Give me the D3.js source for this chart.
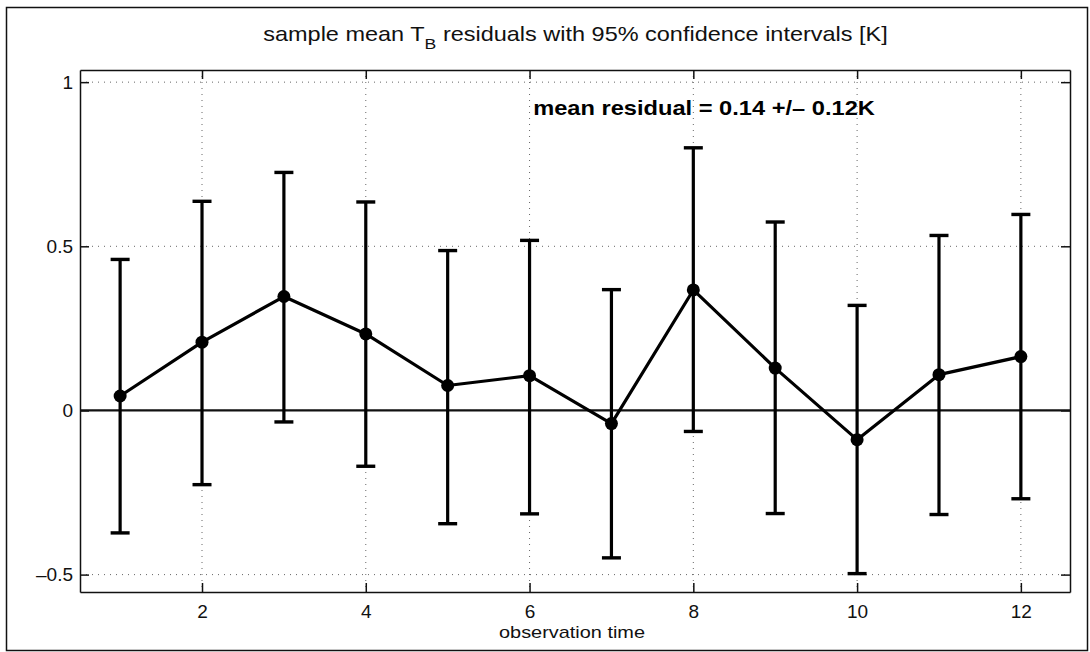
<!DOCTYPE html>
<html>
<head>
<meta charset="utf-8">
<script src="https://cdn.jsdelivr.net/npm/d3@7"></script>
<style>
  html, body { margin: 0; padding: 0; background: #fff; }
  svg { display: block; font-family: "Liberation Sans", Arial, Helvetica, sans-serif; }
</style>
</head>
<body>
<div class="chart"></div>
<script>
'use strict';

// observation index 1..12
var times = [1, 2, 3, 4, 5, 6, 7, 8, 9, 10, 11, 12];
// sample mean residual
var means = [0.044, 0.208, 0.347, 0.233, 0.076, 0.106, -0.040, 0.367, 0.129, -0.089, 0.109, 0.164];
// 95% confidence bounds
var upper = [0.460, 0.637, 0.725, 0.635, 0.487, 0.518, 0.368, 0.800, 0.574, 0.320, 0.533, 0.597];
var lower = [-0.373, -0.226, -0.035, -0.170, -0.345, -0.315, -0.449, -0.064, -0.314, -0.497, -0.317, -0.269];

var xTicks = [2, 4, 6, 8, 10, 12];
var yTicks = [-0.5, 0, 0.5, 1];

var titleText = 'sample mean T';
var titleSub = 'B';
var titleRest = ' residuals with 95% confidence intervals [K]';
var xLabel = 'observation time';
var note = 'mean residual = 0.14 +/\u2013 0.12K';

(function drawChart(d3) {

  var W = 1090, H = 652;
  var margin = {top: 70, right: 20, bottom: 60, left: 80};
  var width = W - margin.left - margin.right,
      height = H - margin.top - margin.bottom;

  var svg = d3.select('.chart').append('svg')
    .attr('width', W)
    .attr('height', H);

  // the scanned figure has its text a bit wider than the font, so squeeze/stretch to fit
  var stretch = function(text, targetWidth) {
    var w = text.node().getComputedTextLength();
    text.attr('transform', 'scale(' + (targetWidth / w) + ',1)');
  };

  // figure frame
  svg.append('rect')
    .attr('x', 6.5).attr('y', 7.5)
    .attr('width', 1081).attr('height', 643)
    .style('fill', 'none').style('stroke', '#111').style('stroke-width', 1.5);

  var g = svg.append('g')
    .attr('transform', 'translate(' + margin.left + ',' + margin.top + ')');

  var x = d3.scaleLinear().domain([0.51, 12.6]).range([0, width]);
  var y = d3.scaleLinear().domain([-0.553, 1.037]).range([height, 0]);

  // dotted grid
  g.append('g').selectAll('line').data(xTicks).enter().append('line')
    .attr('x1', function(d) { return x(d); }).attr('x2', function(d) { return x(d); })
    .attr('y1', 0).attr('y2', height)
    .style('stroke', '#666').style('stroke-width', 1).style('stroke-dasharray', '1,5');
  g.append('g').selectAll('line').data(yTicks).enter().append('line')
    .attr('x1', 0).attr('x2', width)
    .attr('y1', function(d) { return y(d); }).attr('y2', function(d) { return y(d); })
    .style('stroke', '#666').style('stroke-width', 1).style('stroke-dasharray', '1,5');

  // axes, ticks pointing inward on every side
  var fmt = function(d) { return d < 0 ? '\u2013' + Math.abs(d) : String(d); };
  var bottom = g.append('g').attr('transform', 'translate(0,' + height + ')')
    .call(d3.axisBottom(x).tickValues(xTicks).tickSizeInner(-9).tickSizeOuter(0).tickPadding(13));
  var left = g.append('g')
    .call(d3.axisLeft(y).tickValues(yTicks).tickFormat(fmt).tickSizeInner(-9).tickSizeOuter(0).tickPadding(7));
  var top = g.append('g')
    .call(d3.axisTop(x).tickValues(xTicks).tickFormat('').tickSizeInner(-9).tickSizeOuter(0));
  var right = g.append('g').attr('transform', 'translate(' + width + ',0)')
    .call(d3.axisRight(y).tickValues(yTicks).tickFormat('').tickSizeInner(-9).tickSizeOuter(0));

  [bottom, left, top, right].forEach(function(a) {
    a.select('.domain').style('stroke', '#111').style('stroke-width', 1.5);
    a.selectAll('.tick line').style('stroke', '#111').style('stroke-width', 1.5);
    a.selectAll('.tick text')
      .style('font-family', '"Liberation Sans", Arial, sans-serif')
      .style('font-size', '19px').style('fill', '#111');
  });

  // zero line
  g.append('line')
    .attr('x1', 0).attr('x2', width)
    .attr('y1', y(0)).attr('y2', y(0))
    .style('stroke', '#111').style('stroke-width', 2.2);

  var data = times.map(function(t, i) {
    return {t: t, m: means[i], lo: lower[i], hi: upper[i]};
  });

  // error bars
  var bars = g.append('g').selectAll('g').data(data).enter().append('g');
  bars.append('line')
    .attr('x1', function(d) { return x(d.t); }).attr('x2', function(d) { return x(d.t); })
    .attr('y1', function(d) { return y(d.lo); }).attr('y2', function(d) { return y(d.hi); })
    .style('stroke', '#000').style('stroke-width', 3.2);
  bars.append('line')
    .attr('x1', function(d) { return x(d.t) - 9.5; }).attr('x2', function(d) { return x(d.t) + 9.5; })
    .attr('y1', function(d) { return y(d.hi); }).attr('y2', function(d) { return y(d.hi); })
    .style('stroke', '#000').style('stroke-width', 3.4);
  bars.append('line')
    .attr('x1', function(d) { return x(d.t) - 9.5; }).attr('x2', function(d) { return x(d.t) + 9.5; })
    .attr('y1', function(d) { return y(d.lo); }).attr('y2', function(d) { return y(d.lo); })
    .style('stroke', '#000').style('stroke-width', 3.4);

  // mean line and markers
  var line = d3.line()
    .x(function(d) { return x(d.t); })
    .y(function(d) { return y(d.m); });
  g.append('path').datum(data)
    .attr('d', line)
    .style('fill', 'none').style('stroke', '#000').style('stroke-width', 3.2)
    .style('stroke-linejoin', 'round');
  g.append('g').selectAll('circle').data(data).enter().append('circle')
    .attr('cx', function(d) { return x(d.t); })
    .attr('cy', function(d) { return y(d.m); })
    .attr('r', 6.5)
    .style('fill', '#000');

  // annotation
  var noteG = svg.append('g').attr('transform', 'translate(704,115)');
  var noteText = noteG.append('text')
    .attr('text-anchor', 'middle')
    .style('font-size', '20px').style('font-weight', 'bold').style('fill', '#000')
    .text(note);
  stretch(noteText, 342);

  // title with subscript
  var titleG = svg.append('g').attr('transform', 'translate(575.5,41)');
  var title = titleG.append('text')
    .attr('text-anchor', 'middle')
    .style('font-size', '20px').style('fill', '#111');
  title.append('tspan').text(titleText);
  title.append('tspan').attr('dy', 8).style('font-size', '15px').text(titleSub);
  title.append('tspan').attr('dy', -8).text(titleRest);
  stretch(title, 625);

  var xlabG = svg.append('g').attr('transform', 'translate(572,638)');
  var xlab = xlabG.append('text')
    .attr('text-anchor', 'middle')
    .style('font-size', '17px').style('fill', '#111')
    .text(xLabel);
  stretch(xlab, 146);

})(d3);
</script>
</body>
</html>
